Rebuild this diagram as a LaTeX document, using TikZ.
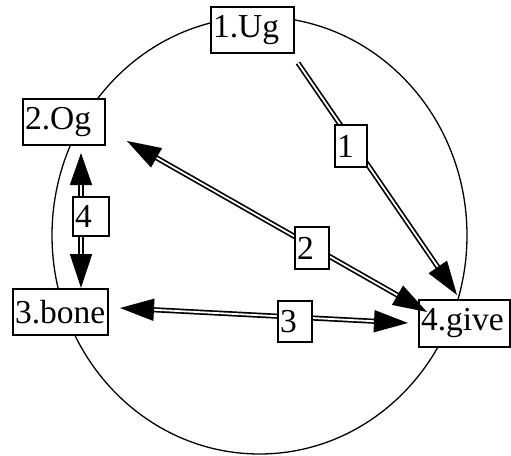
\documentclass[tikz,border=0pt]{standalone}
\usepackage{fontspec}
\setmainfont{Liberation Serif}
\usetikzlibrary{arrows.meta}
\tikzset{
  box/.style={draw, line width=1.3pt, fill=white, rectangle, inner xsep=2pt, inner ysep=0pt,
    align=left, font=\fontsize{33.5}{36}\selectfont},
  conn/.style={line width=1.7pt, double, double distance=1.8pt},
}
\begin{document}
\begin{tikzpicture}[x=1pt, y=-1pt]
\useasboundingbox (0,0) rectangle (511,455);
\draw[line width=1.3pt] (259.5,235.4) ellipse [x radius=207.5pt, y radius=218.6pt];
% main nodes
\node[box, text width=79pt, minimum height=46pt] (ug) at (252.5,30) {1.Ug};
\node[box, text width=78pt, minimum height=46pt] (og) at (64,122) {2.Og};
\node[box, text width=91pt, minimum height=46pt] (bone) at (60.5,312) {3.bone};
\node[box, text width=87pt, minimum height=47pt] (give) at (464.5,323.5) {4.give};
% tip coordinates
\coordinate (e1s) at (298,63);
\coordinate (e1t) at (457,295);
\coordinate (e2s) at (127,141);
\coordinate (e2t) at (427,312);
\coordinate (e3s) at (120,308);
\coordinate (e3t) at (408,323);
\coordinate (e4s) at (81,153);
\coordinate (e4t) at (81,288);
% connectors
\draw[conn, -{Triangle[length=34pt, width=22pt]}] (e1s) -- (e1t);
\draw[conn, {Triangle[length=34pt, width=22pt]}-{Triangle[length=34pt, width=22pt]}] (e2s) -- (e2t);
\draw[conn, {Triangle[length=34pt, width=22pt]}-{Triangle[length=34pt, width=22pt]}] (e3s) -- (e3t);
\draw[conn, {Triangle[length=32pt, width=22pt]}-{Triangle[length=34pt, width=22pt]}] (e4s) -- (e4t);
% labels
\node[box, text width=28pt, minimum height=42pt] (l1) at (351,146) {1};
\node[box, text width=30pt, minimum height=42pt] (l2) at (312,248) {2};
\node[box, text width=30pt, minimum height=41pt] (l3) at (295,321.5) {3};
\node[box, text width=32pt, minimum height=39pt] (l4) at (91,216.5) {4};
\end{tikzpicture}
\end{document}
